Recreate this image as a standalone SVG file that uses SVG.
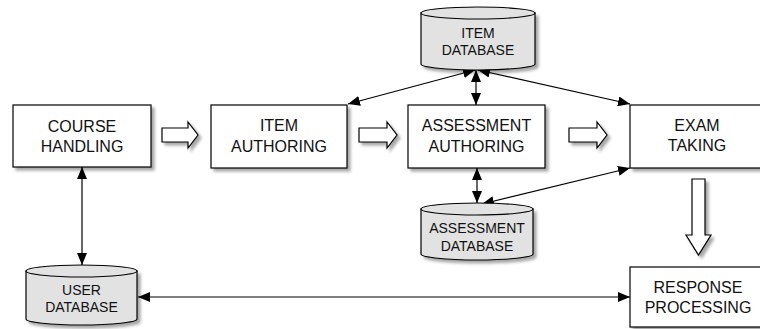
<svg xmlns="http://www.w3.org/2000/svg" width="760" height="329" viewBox="0 0 760 329">
  <defs>
    <filter id="shadow" x="-10%" y="-10%" width="130%" height="140%">
      <feDropShadow dx="3" dy="3" stdDeviation="1.8" flood-color="#000" flood-opacity="0.35"/>
    </filter>
    <marker id="head" viewBox="0 0 12 10" refX="12" refY="5" markerWidth="12" markerHeight="10" markerUnits="userSpaceOnUse" orient="auto-start-reverse">
      <path d="M0,0 L12,5 L0,10 Z" fill="#000"/>
    </marker>
  </defs>
  <style>
    .box { fill: #fff; stroke: #000; stroke-width: 1.2; filter: url(#shadow); }
    .db { fill: #e2e2e2; stroke: #000; stroke-width: 1.2; }
    .dbtop { fill: #e2e2e2; stroke: #000; stroke-width: 1.2; }
    .label { font-family: "Liberation Sans", Arial, sans-serif; font-size: 16px; fill: #111; text-anchor: middle; }
    .dblabel { font-family: "Liberation Sans", Arial, sans-serif; font-size: 14px; fill: #111; text-anchor: middle; }
    .link { fill: none; stroke: #000; stroke-width: 1.2; marker-start: url(#head); marker-end: url(#head); }
    .flow { fill: #fff; stroke: #000; stroke-width: 1.2; filter: url(#shadow); }
  </style>

  <rect width="760" height="329" fill="#fff"/>

  <!-- connectors -->
  <g id="connectors">
    <line class="link" x1="475" y1="70" x2="348" y2="104"/>
    <line class="link" x1="478" y1="70" x2="630" y2="104"/>
    <line class="link" x1="476" y1="70" x2="476" y2="105"/>
    <line class="link" x1="477" y1="168" x2="477" y2="203"/>
    <line class="link" x1="482" y1="204" x2="630" y2="168"/>
    <line class="link" x1="82" y1="167" x2="82" y2="265"/>
    <line class="link" x1="138" y1="297" x2="630" y2="297"/>
    <!-- hollow flow arrows -->
    <path class="flow" d="M162,128 H188 V122 L198,135 L188,148 V142 H162 Z"/>
    <path class="flow" d="M359,128 H387 V122 L397,135 L387,148 V142 H359 Z"/>
    <path class="flow" d="M569,128 H597 V122 L607,135 L597,148 V142 H569 Z"/>
    <path class="flow" d="M692,179 H705 V235 H711 L698.5,255 L686,235 H692 Z"/>
  </g>

  <g id="course-handling">
    <rect class="box" x="13" y="105" width="138" height="62"/>
    <text class="label" x="82" y="132">COURSE</text>
    <text class="label" x="82" y="152">HANDLING</text>
  </g>

  <g id="item-authoring">
    <rect class="box" x="211" y="105" width="136" height="63"/>
    <text class="label" x="279" y="131">ITEM</text>
    <text class="label" x="279" y="152">AUTHORING</text>
  </g>

  <g id="assessment-authoring">
    <rect class="box" x="408" y="105" width="137" height="63"/>
    <text class="label" x="476.5" y="131">ASSESSMENT</text>
    <text class="label" x="476.5" y="152">AUTHORING</text>
  </g>

  <g id="exam-taking">
    <rect class="box" x="630" y="105" width="134" height="63"/>
    <text class="label" x="697" y="131">EXAM</text>
    <text class="label" x="697" y="151">TAKING</text>
  </g>

  <g id="response-processing">
    <rect class="box" x="630" y="267" width="136" height="60"/>
    <text class="label" x="698" y="293">RESPONSE</text>
    <text class="label" x="698" y="313">PROCESSING</text>
  </g>

  <g id="item-database">
    <path class="db" filter="url(#shadow)" d="M421,13 V64 A57,6 0 0 0 535,64 V13 Z"/>
    <ellipse class="dbtop" cx="478" cy="13" rx="57" ry="6"/>
    <text class="dblabel" x="478" y="38">ITEM</text>
    <text class="dblabel" x="478" y="55">DATABASE</text>
  </g>

  <g id="assessment-database">
    <path class="db" filter="url(#shadow)" d="M421,209 V254 A56,6 0 0 0 533,254 V209 Z"/>
    <ellipse class="dbtop" cx="477" cy="209" rx="56" ry="6"/>
    <text class="dblabel" x="477" y="233">ASSESSMENT</text>
    <text class="dblabel" x="477" y="251">DATABASE</text>
  </g>

  <g id="user-database">
    <path class="db" filter="url(#shadow)" d="M26,271 V319 A55.5,6 0 0 0 137,319 V271 Z"/>
    <ellipse class="dbtop" cx="81.5" cy="271" rx="55.5" ry="6"/>
    <text class="dblabel" x="81.5" y="295">USER</text>
    <text class="dblabel" x="81.5" y="312">DATABASE</text>
  </g>
</svg>
